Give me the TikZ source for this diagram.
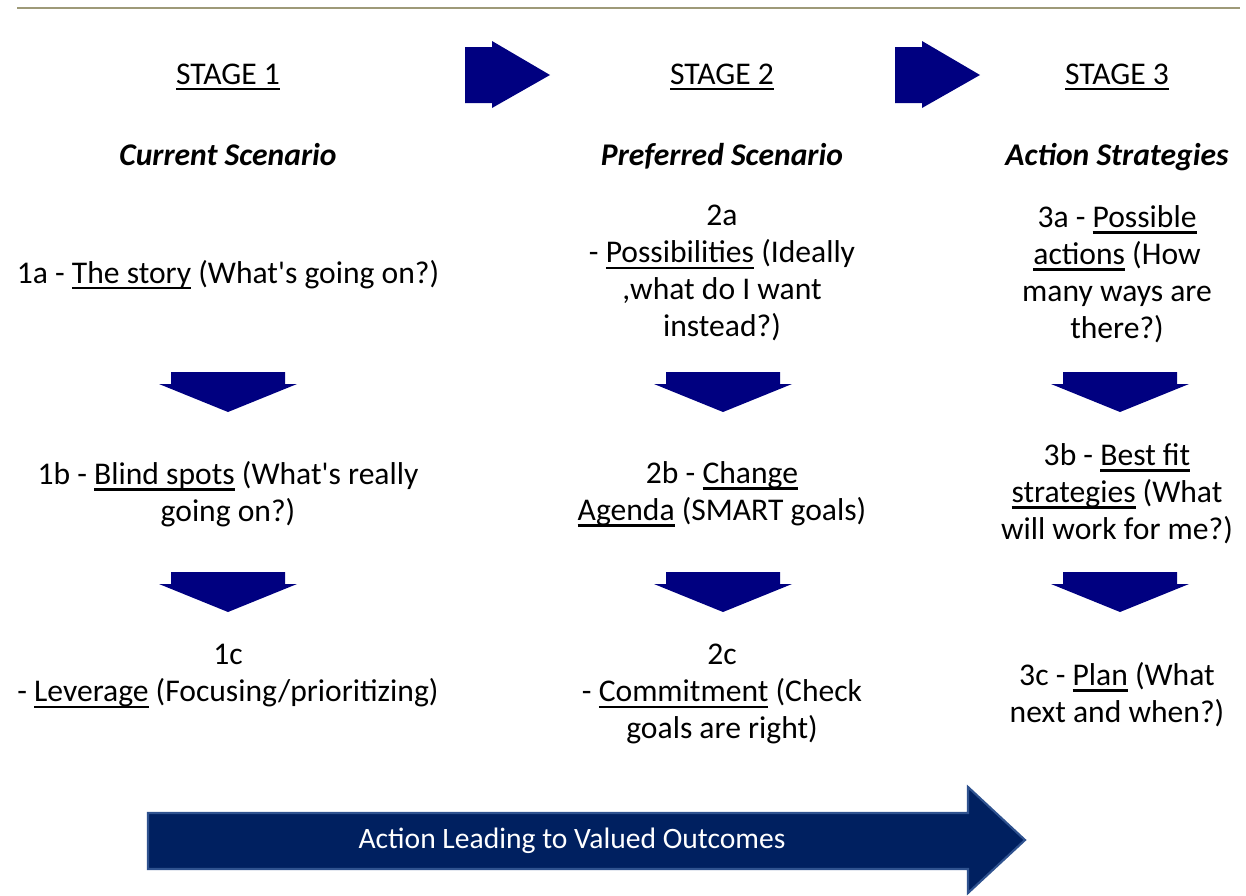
\documentclass[tikz,border=0pt]{standalone}
\usepackage{fontspec}
\setmainfont{Carlito}
\usetikzlibrary{positioning}

\definecolor{rulegrey}{RGB}{158,154,120}
\definecolor{navy}{RGB}{0,0,128}
\definecolor{bandblue}{RGB}{0,32,96}
\definecolor{bandedge}{RGB}{47,82,143}

% underline that runs through descenders, as in a word processor
\newsavebox\ulbox
\newcommand{\uword}[1]{\sbox\ulbox{#1}\rlap{\rule[-0.2em]{\wd\ulbox}{0.07em}}\usebox\ulbox}
\newcommand{\apos}{\textquotesingle}

\tikzset{
  base/.style = {
    anchor=north, inner sep=0pt, align=center,
    font=\fontsize{23.7}{27.75}\selectfont,
    execute at begin node=\strut
  },
  stagehead/.style = {base},
  scenario/.style = {base, font=\fontsize{23.7}{27.75}\selectfont\bfseries\itshape},
  step text/.style = {base},
  blockarrow/.style = {fill=navy, draw=none},
  outcome/.style = {fill=bandblue, draw=bandedge, line width=1.6pt, line join=miter}
}

\begin{document}
\begin{tikzpicture}[x=0.75pt, y=-0.75pt]
  \useasboundingbox (0,0) rectangle (1246,896);

  % Rule along the top
  \draw[rulegrey, line width=2pt] (17,8) -- (1240,8);

  % Stage headings
  \node[stagehead] (stageone) at (228,58) {\uword{STAGE 1}};
  \node[stagehead] (stagetwo) at (722,58) {\uword{STAGE 2}};
  \node[stagehead] (stagethree) at (1117,58) {\uword{STAGE 3}};

  \node[scenario] (current) at (228,139) {Current Scenario};
  \node[scenario] (preferred) at (722,139) {Preferred Scenario};
  \node[scenario] (strategies) at (1117,139) {Action Strategies};

  % Arrows between the stages
  \foreach \xs in {465,895}
    \fill[blockarrow] (\xs,47) -- (\xs+27,47) -- (\xs+27,41) -- (\xs+85,75)
      -- (\xs+27,108) -- (\xs+27,103) -- (\xs,103) -- cycle;

  % First row
  \node[step text] (onea) at (228,257) {1a - \uword{The story} (What\apos s going on?)};
  \node[step text] (twoa) at (722,205)
    {2a\\- \uword{Possibilities} (Ideally\\,what do I want\\instead?)};
  \node[step text] (threea) at (1117,205)
    {3a - \uword{Possible}\\\uword{actions} (How\\many ways are\\there?)};

  % Second row
  \node[step text] (oneb) at (228,461) {1b - \uword{Blind spots} (What\apos s really\\going on?)};
  \node[step text] (twob) at (722,461) {2b - \uword{Change}\\\uword{Agenda} (SMART goals)};
  \node[step text] (threeb) at (1117,443)
    {3b - \uword{Best fit}\\\uword{strategies} (What\\will work for me?)};

  % Third row
  \node[step text] (onec) at (228,644) {1c\\- \uword{Leverage} (Focusing/prioritizing)};
  \node[step text] (twoc) at (722,644) {2c\\- \uword{Commitment} (Check\\goals are right)};
  \node[step text] (threec) at (1117,662) {3c - \uword{Plan} (What\\next and when?)};

  % Down arrows inside each column
  \foreach \cx in {228,723,1120}
    \foreach \ya in {372,572}
      \fill[blockarrow] (\cx-57,\ya) -- (\cx+57,\ya) -- (\cx+57,\ya+12) -- (\cx+69,\ya+12)
        -- (\cx,\ya+40) -- (\cx-69,\ya+12) -- (\cx-57,\ya+12) -- cycle;

  % Long arrow at the bottom
  \filldraw[outcome] (148,813) -- (968,813) -- (968,787) -- (1025,840)
    -- (968,893) -- (968,869) -- (148,869) -- cycle;
  \node[text=white, font=\fontsize{22.2}{26}\selectfont] (valued) at (572,841)
    {Action Leading to Valued Outcomes};
\end{tikzpicture}
\end{document}
